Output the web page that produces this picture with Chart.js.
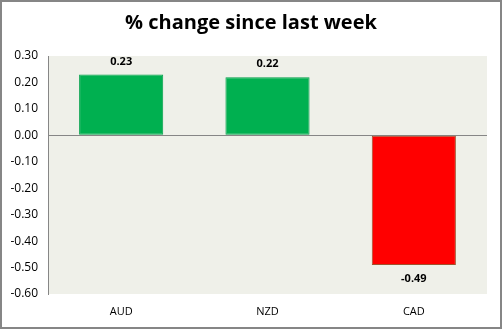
<!DOCTYPE html>
<html>
<head>
<meta charset="utf-8">
<script src="https://cdn.jsdelivr.net/npm/chart.js@4"></script>
<style>
  html, body { margin: 0; padding: 0; background: #fff; }
  #wrap { width: 502px; height: 329px; }
</style>
</head>
<body>
<div id="wrap"><canvas id="chart" width="502" height="329"></canvas></div>
<script>
// chart data
const categories = ['AUD', 'NZD', 'CAD'];
const changes = [0.23, 0.22, -0.49];
const barColors = ['#00B050', '#00B050', '#FF0000'];
const barBorders = ['#00A04A', '#00A04A', '#A0522D'];
const titleText = '% change since last week';

const FONT = "'Open Sans', 'DejaVu Sans', sans-serif";

// background of plot area, outer frame and title
const frame = {
    id: 'frame',
    beforeDraw(chart) {
        const { ctx, chartArea: a } = chart;
        ctx.save();
        ctx.fillStyle = '#fff';
        ctx.fillRect(0, 0, chart.width, chart.height);
        ctx.fillStyle = '#EFF0E9';
        ctx.fillRect(a.left, a.top, a.right - a.left, a.bottom - a.top);
        ctx.restore();
    },
    afterDraw(chart) {
        const { ctx } = chart;
        ctx.save();
        ctx.strokeStyle = '#868686';
        ctx.lineWidth = 2;
        ctx.strokeRect(1, 1, chart.width - 2, chart.height - 2);
        ctx.fillStyle = '#000';
        ctx.font = 'bold 20px ' + FONT;
        ctx.textAlign = 'center';
        ctx.textBaseline = 'middle';
        ctx.fillText(titleText, chart.width / 2, 23);
        ctx.restore();
    }
};

// value labels on bars
const valueLabels = {
    id: 'valueLabels',
    afterDatasetsDraw(chart) {
        const { ctx } = chart;
        const meta = chart.getDatasetMeta(0);
        ctx.save();
        ctx.font = 'bold 11px ' + FONT;
        ctx.fillStyle = '#000';
        ctx.textAlign = 'center';
        ctx.textBaseline = 'middle';
        meta.data.forEach((bar, i) => {
            const v = changes[i];
            const y = v >= 0 ? bar.y - 13 : bar.y + 14;
            ctx.fillText(v.toFixed(2), bar.x, y);
        });
        ctx.restore();
    }
};

new Chart(document.getElementById('chart'), {
    type: 'bar',
    data: {
        labels: categories,
        datasets: [{
            data: changes,
            backgroundColor: barColors,
            borderColor: barBorders,
            borderWidth: 1,
            borderSkipped: false,
            categoryPercentage: 1,
            barPercentage: 0.575
        }]
    },
    options: {
        responsive: false,
        animation: false,
        layout: { padding: { top: 56, right: 15, left: 0, bottom: 0 } },
        plugins: {
            legend: { display: false },
            title: { display: false },
            tooltip: { enabled: false }
        },
        scales: {
            x: {
                grid: { display: false, drawTicks: false },
                border: { display: false },
                ticks: { color: '#000', font: { family: FONT, size: 11 }, padding: 11 },
                afterFit: s => { s.height = 35; }
            },
            y: {
                min: -0.6,
                max: 0.3,
                ticks: {
                    stepSize: 0.1,
                    color: '#000',
                    font: { family: FONT, size: 12 },
                    padding: 10,
                    callback: v => Number(v).toFixed(2)
                },
                grid: {
                    drawTicks: false,
                    lineWidth: 1,
                    color: c => Math.abs(c.tick.value) < 1e-9 ? '#868686' : 'rgba(0,0,0,0)'
                },
                border: { display: true, color: '#868686', width: 1 },
                afterFit: s => { s.width = 48; }
            }
        }
    },
    plugins: [frame, valueLabels]
});
</script>
</body>
</html>
